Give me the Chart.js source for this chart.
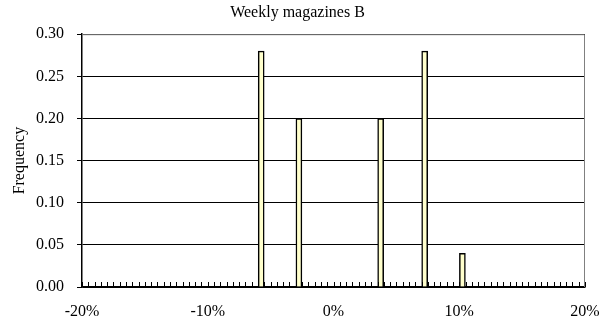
<!DOCTYPE html>
<html>
<head>
<meta charset="utf-8">
<script src="https://cdn.jsdelivr.net/npm/chart.js@4.4.0/dist/chart.umd.min.js"></script>
<style>
  html, body { margin: 0; padding: 0; background: #fff; }
  #wrap { width: 609px; height: 327px; }
</style>
</head>
<body>
<div id="wrap"><canvas id="chart" width="609" height="327"></canvas></div>
<script>
// DATA
const binCenters = [-5.75, -2.75, 3.75, 7.25, 10.25];   // % return, bin centres (0.5% bins)
const frequencies = [0.28, 0.20, 0.20, 0.28, 0.04];
const xTickValues = [-20, -10, 0, 10, 20];
const yTickValues = [0, 0.05, 0.10, 0.15, 0.20, 0.25, 0.30];
const minorStep = 0.5;

const serif = "'Liberation Serif', 'Times New Roman', serif";

// gray frame on top/right + small inward ticks along the x axis
const framePlugin = {
    id: 'frame',
    afterDatasetsDraw(chart) {
        const { ctx, chartArea: a, scales } = chart;
        ctx.save();
        ctx.strokeStyle = '#808080';
        ctx.lineWidth = 1;
        ctx.beginPath();
        ctx.moveTo(a.left, a.top + 0.5);
        ctx.lineTo(a.right - 0.5, a.top + 0.5);
        ctx.lineTo(a.right - 0.5, a.bottom);
        ctx.stroke();
        // minor tick marks pointing up into the plot
        ctx.strokeStyle = '#000';
        ctx.beginPath();
        for (let v = scales.x.min; v <= scales.x.max + 1e-9; v += minorStep) {
            const px = Math.round(scales.x.getPixelForValue(v)) + 0.5;
            ctx.moveTo(px, a.bottom);
            ctx.lineTo(px, a.bottom - 5);
        }
        ctx.stroke();
        ctx.restore();
    }
};

var ctx = document.getElementById('chart').getContext('2d');
var histChart = new Chart(ctx, {
    type: 'bar',
    data: {
        datasets: [{
            label: 'Weekly magazines B',
            data: binCenters.map((c, i) => ({ x: c, y: frequencies[i] })),
            backgroundColor: '#ffffcc',
            borderColor: '#000',
            borderWidth: 1.5,
            barThickness: 6
        }]
    },
    options: {
        responsive: false,
        animation: false,
        layout: { padding: { left: 10, right: 24, top: 0, bottom: 0 } },
        plugins: {
            legend: { display: false },
            tooltip: { enabled: false },
            title: {
                display: true,
                text: 'Weekly magazines B',
                color: '#000',
                font: { family: serif, size: 16, weight: 'normal' },
                padding: { top: 3, bottom: 12 }
            }
        },
        scales: {
            x: {
                type: 'linear',
                min: -20,
                max: 20,
                offset: false,
                afterBuildTicks: s => { s.ticks = xTickValues.map(v => ({ value: v })); },
                afterFit: s => { s.height = 40; s.paddingLeft = 0; s.paddingRight = 0; },
                ticks: {
                    color: '#000',
                    font: { family: serif, size: 16 },
                    padding: 15,
                    maxRotation: 0,
                    callback: v => v + '%'
                },
                grid: { display: false, drawTicks: false, offset: false },
                border: { color: '#000', width: 1.5 }
            },
            y: {
                min: 0,
                max: 0.30,
                afterBuildTicks: s => { s.ticks = yTickValues.map(v => ({ value: v })); },
                afterFit: s => { s.width = 72; s.paddingTop = 0; s.paddingBottom = 0; },
                ticks: {
                    color: '#000',
                    font: { family: serif, size: 16 },
                    padding: 13,
                    callback: v => v.toFixed(2)
                },
                grid: { color: '#000', lineWidth: 1, tickLength: 5, tickColor: '#000' },
                border: { color: '#000', width: 1.5 },
                title: {
                    display: true,
                    text: 'Frequency',
                    color: '#000',
                    font: { family: serif, size: 16 },
                    padding: { top: 0, bottom: 0 }
                }
            }
        }
    },
    plugins: [framePlugin]
});
</script>
</body>
</html>
